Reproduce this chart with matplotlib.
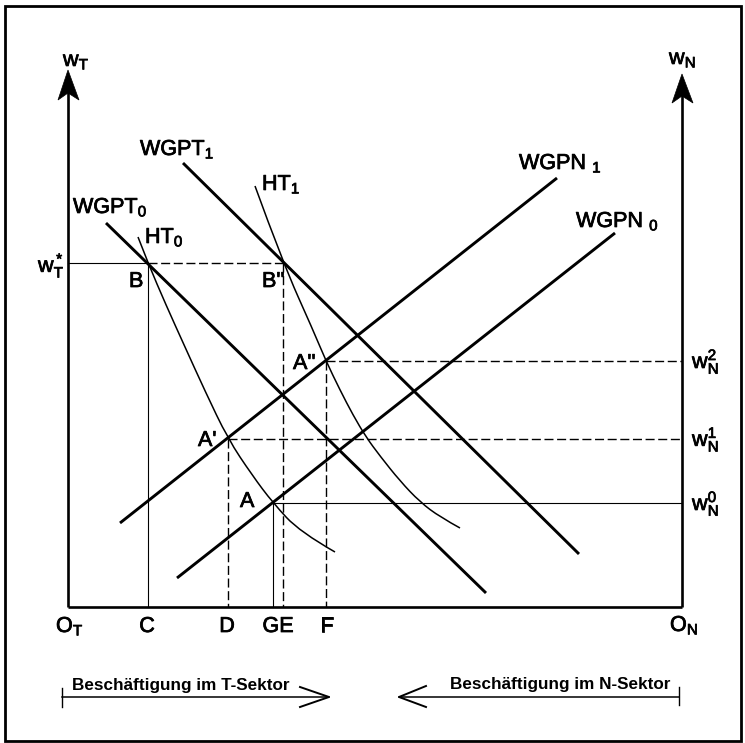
import matplotlib
matplotlib.use("Agg")
import matplotlib.pyplot as plt
import matplotlib.patheffects as pe
from matplotlib.path import Path
from matplotlib.patches import PathPatch, Polygon, Rectangle

plt.rcParams['font.family'] = ['Liberation Sans', 'DejaVu Sans']
plt.rcParams['mathtext.fontset'] = 'custom'
plt.rcParams['mathtext.rm'] = 'Liberation Sans'
plt.rcParams['mathtext.it'] = 'Liberation Sans'
plt.rcParams['mathtext.bf'] = 'Liberation Sans:bold'

# ---------------- data (diagram coordinates, y grows downward) ----------------
origin_T = (68, 607)
origin_N = (682, 607)

# straight schedules: endpoints
wgpt0_x = [106, 486]
wgpt0_y = [223, 593]
wgpt1_x = [183, 579]
wgpt1_y = [163, 554]
wgpn0_x = [177, 615]
wgpn0_y = [578, 233]
wgpn1_x = [120, 557]
wgpn1_y = [523, 178]

# HT curves
ht0_x = [138, 148, 166, 185, 205, 228, 252, 273, 300, 335]
ht0_y = [237, 263, 305, 347, 391, 439, 475, 503, 532, 552]
ht1_x = [255, 283, 313, 326, 340, 353, 366, 380, 400, 420, 440, 460]
ht1_y = [186, 263, 330, 361, 390, 415, 437, 456, 481, 502, 517, 528]

# equilibrium points
pt_names = ["B", "B''", "A''", "A'", "A"]
pt_x = [148, 283, 326, 228, 273]
pt_y = [263, 263, 361, 439, 503]

# x-axis tick labels
xtick_labels = ["C", "D", "GE", "F"]
xtick_pos = [147, 227, 278, 327]

# right axis wage labels
wn_labels = [r"w$_N^2$", r"w$_N^1$", r"w$_N^0$"]
wn_levels = [361, 439, 503]

fig = plt.figure(figsize=(7.45, 7.43), dpi=100)
ax = fig.add_axes([0, 0, 1, 1])
ax.set_xlim(0, 745)
ax.set_ylim(743, 0)
ax.axis('off')

K = 'black'
LW_MAIN = 2.1
LW_AX = 1.9
LW_THIN = 1.0
DASH = (0, (6.5, 2.6))
BOLDEN = [pe.withStroke(linewidth=0.55, foreground=K)]

# outer frame
ax.add_patch(Rectangle((5, 6), 736, 735, fill=False, lw=2.0, ec=K))

# axes
x0, yb = origin_T
x1, _ = origin_N
ax.plot([x0, x1], [yb, yb], color=K, lw=LW_AX, solid_capstyle='butt')
ax.plot([x0, x0], [yb, 92], color=K, lw=LW_AX, solid_capstyle='butt')
ax.plot([x1, x1], [yb, 95], color=K, lw=LW_AX, solid_capstyle='butt')
ax.add_patch(Polygon([(x0, 70), (58, 100), (x0, 93), (79, 100)], closed=True, fc=K, ec=K, lw=0.5))
ax.add_patch(Polygon([(x1, 74), (672, 103), (x1, 96), (693, 103)], closed=True, fc=K, ec=K, lw=0.5))

# straight schedules
for xs, ys in [(wgpt0_x, wgpt0_y), (wgpt1_x, wgpt1_y), (wgpn0_x, wgpn0_y), (wgpn1_x, wgpn1_y)]:
    ax.plot(xs, ys, color=K, lw=LW_MAIN, solid_capstyle='butt')


def smooth_path(xs, ys):
    pts = list(zip(xs, ys))
    verts = [pts[0]]
    codes = [Path.MOVETO]
    for i in range(1, len(pts) - 2):
        mid = ((pts[i][0] + pts[i + 1][0]) / 2, (pts[i][1] + pts[i + 1][1]) / 2)
        verts += [pts[i], mid]
        codes += [Path.CURVE3, Path.CURVE3]
    verts += [pts[-2], pts[-1]]
    codes += [Path.CURVE3, Path.CURVE3]
    return Path(verts, codes)


for xs, ys in [(ht0_x, ht0_y), (ht1_x, ht1_y)]:
    ax.add_patch(PathPatch(smooth_path(xs, ys), fill=False, lw=1.1, ec=K))

# guide lines
B, B2, A2, A1, A0 = list(zip(pt_x, pt_y))
ax.plot([x0, B[0]], [B[1], B[1]], color=K, lw=0.8)
ax.plot([B[0], B2[0]], [B[1], B2[1]], color=K, lw=LW_THIN, linestyle=DASH)
ax.plot([B[0], B[0]], [B[1], yb], color=K, lw=0.8)
ax.plot([B2[0], B2[0]], [B2[1], yb], color=K, lw=LW_THIN, linestyle=DASH)
ax.plot([A1[0], A1[0]], [A1[1], yb], color=K, lw=LW_THIN, linestyle=DASH)
ax.plot([A2[0], A2[0]], [A2[1], yb], color=K, lw=LW_THIN, linestyle=DASH)
ax.plot([A0[0], A0[0]], [A0[1], yb], color=K, lw=0.8)
ax.plot([A2[0], x1], [A2[1], A2[1]], color=K, lw=LW_THIN, linestyle=DASH)
ax.plot([A1[0], x1], [A1[1], A1[1]], color=K, lw=LW_THIN, linestyle=DASH)
ax.plot([A0[0], x1], [A0[1], A0[1]], color=K, lw=0.8)

FS = 15.5


def label(x, y, s, **kw):
    kw.setdefault('ha', 'left')
    kw.setdefault('fontsize', FS)
    ax.text(x, y, s, va='baseline', path_effects=BOLDEN, **kw)


# curve labels
label(140, 155, r"WGPT$_1$")
label(73, 213, r"WGPT$_0$")
label(145, 243, r"HT$_0$")
label(262, 190, r"HT$_1$")
label(519, 169, r"WGPN $_1$")
label(576, 227, r"WGPN $_0$")

# point labels
pt_lab_pos = [(129, 287), (262, 287), (293, 369), (198, 446), (240, 507)]
for name, (lx, ly) in zip(pt_names, pt_lab_pos):
    label(lx, ly, name)

# axis labels
label(63, 66, r"w$_T$")
label(669, 64, r"w$_N$")
label(38, 272, r"w$_T^*$")
for lab, lev in zip(wn_labels, wn_levels):
    label(692, lev + 7, lab)

label(56, 632, r"O$_T$")
label(670, 631, r"O$_N$")
for lab, xp in zip(xtick_labels, xtick_pos):
    label(xp, 632, lab, ha='center')

# employment arrows
ya = 697
ax.plot([62, 62], [688, 707], color=K, lw=1.0)
ax.plot([62, 329], [ya, ya], color=K, lw=1.1)
ax.plot([300, 329, 300], [687, ya, 707], color=K, lw=1.4)
ax.plot([679, 679], [687, 705], color=K, lw=1.0)
ax.plot([399, 679], [ya, ya], color=K, lw=1.1)
ax.plot([426, 399, 426], [686, ya, 707], color=K, lw=1.4)
ax.text(72, 690, "Beschäftigung im T-Sektor", fontsize=12.3, fontweight='bold', va='baseline', ha='left')
ax.text(450, 689, "Beschäftigung im N-Sektor", fontsize=12.3, fontweight='bold', va='baseline', ha='left')

fig.savefig("out.png", dpi=100)
